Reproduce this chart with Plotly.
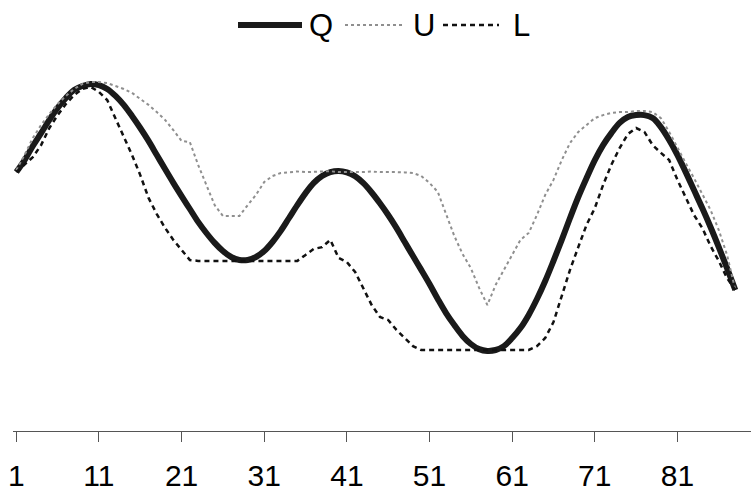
import plotly.graph_objects as go

x_vals = list(range(1, 89))

q_vals = [86.3, 90.3, 95.0, 99.3, 103.7, 107.7, 111.0, 113.7, 115.0, 115.7,
          115.3, 114.0, 111.7, 108.7, 105.0, 101.0, 96.7, 92.0, 87.3, 82.7,
          78.3, 74.0, 69.7, 66.0, 62.7, 60.0, 58.0, 57.0, 57.0, 58.0,
          60.0, 63.0, 66.7, 71.0, 75.3, 79.3, 82.7, 85.0, 86.3, 86.7,
          86.2, 84.9, 82.6, 79.5, 75.9, 72.0, 67.7, 63.0, 58.3, 53.7,
          49.0, 44.0, 39.3, 35.3, 31.7, 29.0, 27.3, 26.7, 27.0, 28.3,
          31.0, 34.3, 38.7, 44.0, 50.0, 56.7, 63.7, 71.0, 78.0, 84.3,
          90.3, 95.3, 99.3, 102.7, 104.7, 105.3, 105.3, 104.3, 101.3, 97.0,
          92.0, 86.3, 80.3, 74.3, 68.0, 61.3, 54.3, 47.0]

u_vals = [87.0, 92.0, 97.7, 102.0, 105.7, 109.0, 111.7, 114.0, 115.7, 116.3,
          116.3, 116.0, 115.0, 114.0, 112.7, 110.7, 108.7, 106.3, 103.7, 100.3,
          96.7, 96.3, 88.7, 82.0, 75.3, 71.7, 71.7, 71.7, 75.3, 78.7,
          83.0, 85.0, 86.0, 86.3, 86.5, 86.3, 86.4, 86.3, 86.6, 86.3,
          86.4, 86.3, 86.3, 86.5, 86.3, 86.4, 86.3, 86.2, 86.0, 85.0,
          82.7, 79.7, 72.0, 65.0, 59.0, 54.3, 47.7, 42.0, 48.7, 53.7,
          58.7, 63.7, 66.0, 72.0, 78.7, 83.7, 90.3, 96.0, 99.7, 102.0,
          104.3, 105.3, 106.0, 106.3, 106.3, 106.7, 106.7, 106.3, 104.3, 99.7,
          94.3, 89.3, 84.3, 79.0, 73.7, 67.0, 58.7, 47.0]

l_vals = [86.3, 88.7, 91.3, 95.3, 101.0, 105.3, 109.0, 112.0, 114.0, 114.7,
          113.0, 110.3, 104.3, 98.0, 92.0, 85.3, 77.7, 72.3, 67.7, 63.7,
          60.3, 57.0, 56.7, 56.7, 56.7, 56.7, 56.7, 56.7, 56.7, 56.7,
          56.7, 56.7, 56.7, 56.7, 56.7, 58.7, 60.7, 61.3, 63.7, 57.7,
          56.3, 53.0, 47.7, 42.0, 38.0, 37.0, 33.7, 31.0, 28.3, 27.0,
          27.0, 27.0, 27.0, 27.0, 27.0, 27.0, 27.0, 27.0, 27.0, 27.0,
          27.0, 27.0, 27.0, 28.3, 31.0, 36.3, 45.3, 53.7, 61.3, 68.7,
          74.3, 82.0, 88.7, 94.3, 99.0, 101.0, 99.7, 95.3, 92.7, 90.3,
          83.7, 77.7, 72.0, 67.7, 61.7, 56.7, 51.0, 47.0]

tick_vals = [1, 11, 21, 31, 41, 51, 61, 71, 81]
tick_text = ["1", "11", "21", "31", "41", "51", "61", "71", "81"]

series_names = ["Q", "U", "L"]
series_styles = [
    dict(color="#1a1a1a", width=6, dash="solid", shape="spline"),
    dict(color="#8f8f8f", width=2, dash="dot", shape="linear"),
    dict(color="#111111", width=2.5, dash="5px,4px", shape="linear"),
]
series_vals = [q_vals, u_vals, l_vals]

# custom legend layout (pixel positions in the 751x492 page)
PLOT_L, PLOT_R, PLOT_B, PLOT_T = 13, 751, 431, 56
legend_y_px = 25
legend_items = [(238, 302, 307), (345, 405, 411), (443, 499, 511)]


def px_to_paper_x(px):
    return (px - PLOT_L) / (PLOT_R - PLOT_L)


def px_to_paper_y(py):
    return (PLOT_B - py) / (PLOT_B - PLOT_T)


fig = go.Figure()
for name, vals, st in zip(series_names, series_vals, series_styles):
    fig.add_trace(go.Scatter(x=x_vals, y=vals, name=name, mode="lines",
                             showlegend=False,
                             line=dict(color=st["color"], width=st["width"],
                                       dash=st["dash"], shape=st["shape"])))

ly = px_to_paper_y(legend_y_px)
for name, st, (x0, x1, tx) in zip(series_names, series_styles, legend_items):
    fig.add_shape(type="line", xref="paper", yref="paper",
                  x0=px_to_paper_x(x0), x1=px_to_paper_x(x1), y0=ly, y1=ly,
                  line=dict(color=st["color"], width=st["width"], dash=st["dash"]))
    fig.add_annotation(xref="paper", yref="paper", x=px_to_paper_x(tx), y=ly,
                       text=name, showarrow=False, xanchor="left", yanchor="middle",
                       font=dict(size=31, color="black"))

fig.update_layout(
    width=751, height=492,
    margin=dict(l=PLOT_L, r=751 - PLOT_R, t=PLOT_T, b=492 - PLOT_B),
    paper_bgcolor="white", plot_bgcolor="white",
    font=dict(family="Arial, Liberation Sans, sans-serif", color="black"),
    showlegend=False,
    xaxis=dict(range=[0.6, 89.9], tickmode="array", tickvals=tick_vals,
               ticktext=tick_text, showgrid=False, zeroline=False,
               showline=True, linecolor="#555555", linewidth=1,
               ticks="outside", ticklen=10, tickcolor="#555555",
               tickfont=dict(size=30), ticklabelstandoff=8),
    yaxis=dict(range=[0, 125], visible=False, showgrid=False, zeroline=False),
)

fig.write_html("out.html")
